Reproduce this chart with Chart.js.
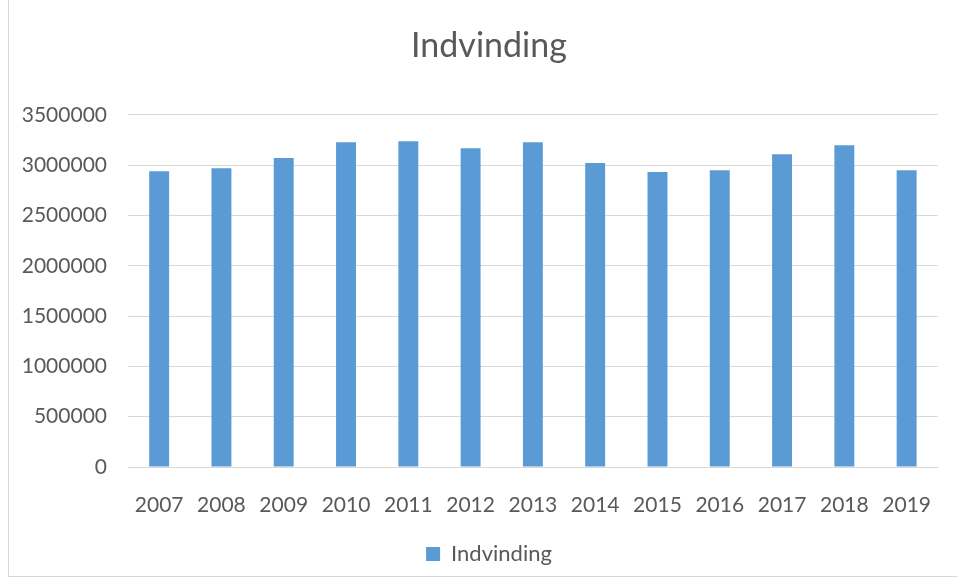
<!DOCTYPE html>
<html>
<head>
<meta charset="utf-8">
<script src="https://cdn.jsdelivr.net/npm/chart.js@4.4.1/dist/chart.umd.min.js"></script>
<style>
    html, body { margin: 0; padding: 0; background: #ffffff; }
    #frame {
        position: absolute; left: 8px; top: -1px;
        width: 957px; height: 578px;
        border: 1px solid #d9d9d9;
        box-sizing: border-box;
    }
    #wrap { position: absolute; left: 0; top: 0; width: 957px; height: 578px; }
</style>
</head>
<body>
<div id="frame"></div>
<div id="wrap"><canvas id="chart"></canvas></div>
<script>
// Data
const years = ['2007', '2008', '2009', '2010', '2011', '2012', '2013',
               '2014', '2015', '2016', '2017', '2018', '2019'];
const indvinding = [2940000, 2970000, 3070000, 3228000, 3238000, 3168000, 3228000,
                    3020000, 2931000, 2950000, 3109000, 3198000, 2950000];
const yTicks = [0, 500000, 1000000, 1500000, 2000000, 2500000, 3000000, 3500000];

const FONT = 'Lato, "Open Sans", sans-serif';
const TEXT = '#595959';
const GRID = '#d9d9d9';
const BAR = '#5b9bd5';

new Chart(document.getElementById('chart'), {
    type: 'bar',
    data: {
        labels: years,
        datasets: [{
            label: 'Indvinding',
            data: indvinding,
            backgroundColor: BAR,
            borderWidth: 0,
            categoryPercentage: 1,
            barPercentage: 0.32
        }]
    },
    options: {
        responsive: true,
        maintainAspectRatio: false,
        animation: false,
        // x tick padding reserves ~20px on the right, negative right padding eats it back
        layout: { padding: { left: 16, right: -5, top: 0, bottom: 3 } },
        plugins: {
            title: {
                display: true,
                text: 'Indvinding',
                color: TEXT,
                font: { family: FONT, size: 34, weight: 'normal' },
                padding: { top: 26, bottom: 48 }
            },
            legend: {
                position: 'bottom',
                labels: {
                    color: TEXT,
                    font: { family: FONT, size: 22 },
                    boxWidth: 14,
                    boxHeight: 14,
                    padding: 8
                }
            },
            tooltip: { enabled: false }
        },
        scales: {
            x: {
                grid: { display: false, drawTicks: false },
                border: { display: true, color: GRID, width: 1 },
                afterFit: (axis) => { axis.height = 68; },
                ticks: { color: TEXT, font: { family: FONT, size: 21 }, padding: 26, maxRotation: 0 }
            },
            y: {
                min: 0,
                max: 3500000,
                afterBuildTicks: (axis) => { axis.ticks = yTicks.map(v => ({ value: v })); },
                afterFit: (axis) => { axis.width = 112; },
                grid: { color: GRID, drawTicks: false },
                border: { display: false },
                ticks: {
                    color: TEXT,
                    font: { family: FONT, size: 21 },
                    padding: 21,
                    callback: (v) => String(v)
                }
            }
        }
    }
});
</script>
</body>
</html>
